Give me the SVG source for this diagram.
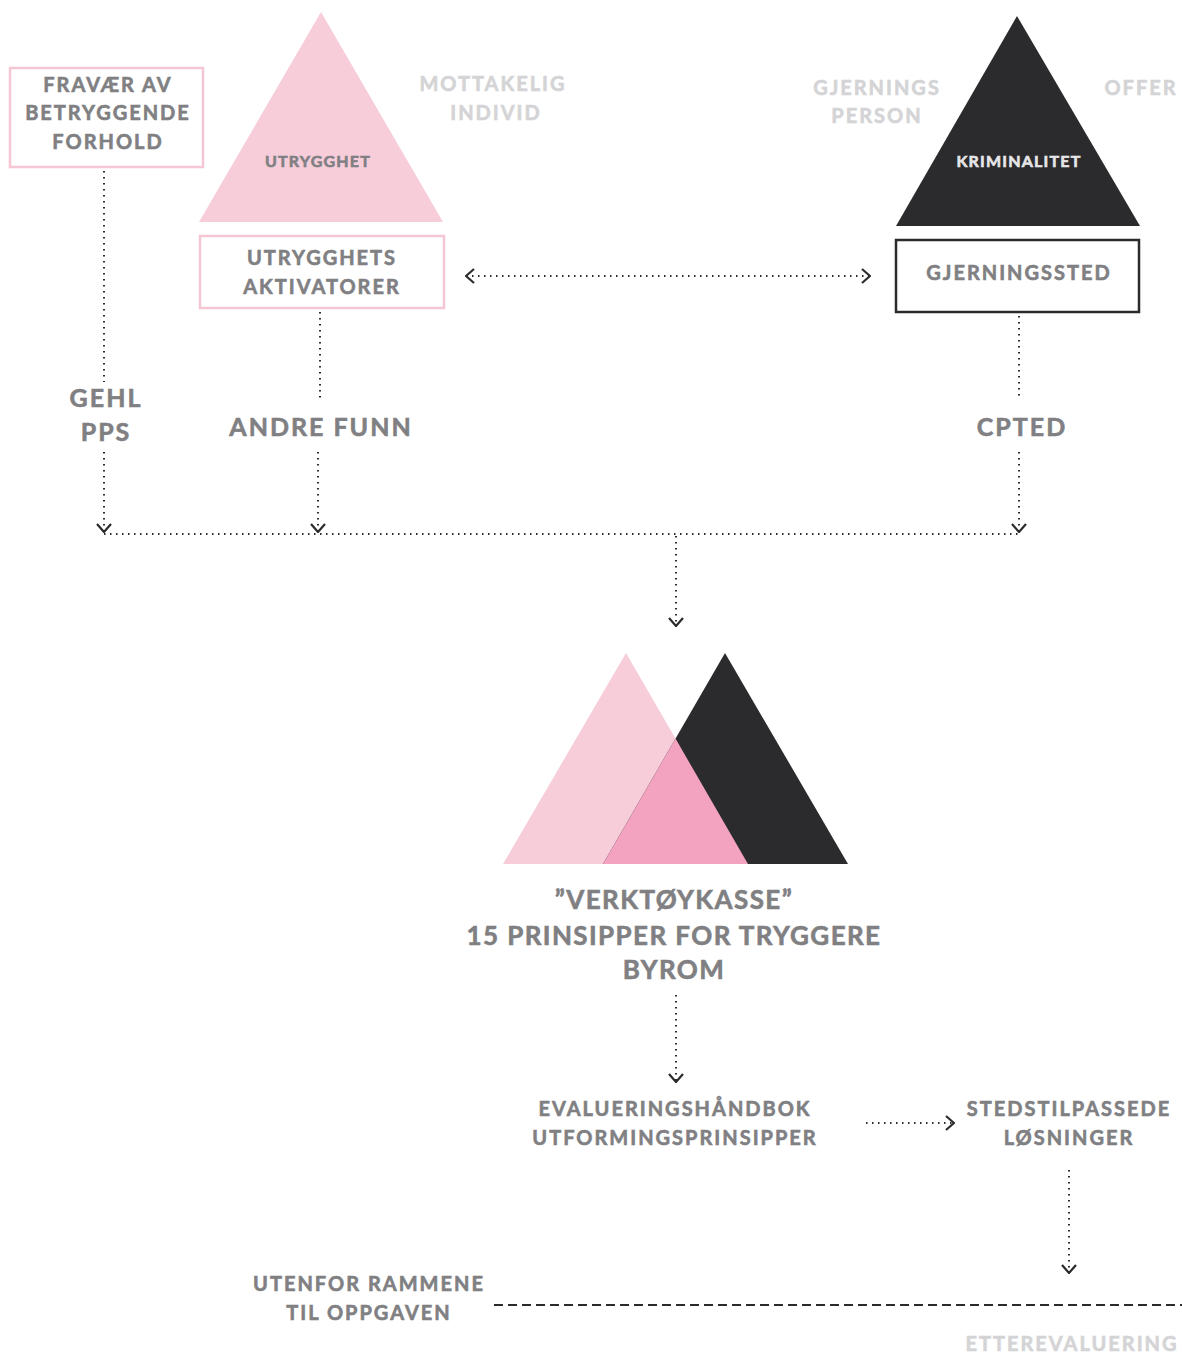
<svg xmlns="http://www.w3.org/2000/svg" width="1182" height="1356" viewBox="0 0 1182 1356">
<defs>
<style>
.t{font-family:Lato,"Open Sans","Liberation Sans",sans-serif;font-weight:700;fill:#808083;stroke:#808083;stroke-width:0.6px;text-anchor:middle;letter-spacing:2px}
.lt{fill:#d4d4d6;stroke:#d4d4d6}
.s20{font-size:20px}
.s15{font-size:16px;letter-spacing:1.2px}
.s25{font-size:25px;letter-spacing:2px}
.s26{font-size:26px;letter-spacing:1.4px}
.dot{fill:none;stroke:#2b2b2d;stroke-width:2;stroke-dasharray:1.5 4.5}
.dash{fill:none;stroke:#2b2b2d;stroke-width:2;stroke-dasharray:9 5}
</style>
<marker id="ah" viewBox="0 0 10 16" refX="9" refY="8" markerWidth="10" markerHeight="16" markerUnits="userSpaceOnUse" orient="auto-start-reverse">
<path d="M1,1 L9,8 L1,15" fill="none" stroke="#2b2b2d" stroke-width="2.2"/>
</marker>
</defs>
<rect width="1182" height="1356" fill="#ffffff"/>

<g id="fravaer">
<rect x="10" y="68" width="193" height="99" fill="none" stroke="#f5c6d3" stroke-width="2.5"/>
<text class="t s20" x="108" y="92">FRAVÆR AV</text>
<text class="t s20" x="108" y="120">BETRYGGENDE</text>
<text class="t s20" x="108" y="149">FORHOLD</text>
</g>

<g id="utrygghet">
<polygon points="321,12 443,222 199,222" fill="#f7cdda"/>
<text class="t s15" x="318" y="167">UTRYGGHET</text>
</g>

<g id="mottakelig">
<text class="t lt s20" x="493" y="91">MOTTAKELIG</text>
<text class="t lt s20" x="496" y="120">INDIVID</text>
</g>

<g id="aktivatorer">
<rect x="200" y="236" width="244" height="72" fill="none" stroke="#f5c6d3" stroke-width="2.5"/>
<text class="t s20" x="322" y="265">UTRYGGHETS</text>
<text class="t s20" x="322" y="294">AKTIVATORER</text>
</g>

<g id="gjerningsperson">
<text class="t lt s20" x="877" y="95">GJERNINGS</text>
<text class="t lt s20" x="877" y="123">PERSON</text>
</g>

<g id="offer">
<text class="t lt s20" x="1141" y="95">OFFER</text>
</g>

<g id="kriminalitet">
<polygon points="1017,16 1140,226 896,226" fill="#2b2b2d"/>
<text class="t s15" x="1019" y="167" style="fill:#e6e6e8;stroke:#e6e6e8">KRIMINALITET</text>
</g>

<g id="gjerningssted">
<rect x="896" y="240" width="243" height="72" fill="none" stroke="#2b2b2d" stroke-width="2.5"/>
<text class="t s20" x="1019" y="280">GJERNINGSSTED</text>
</g>

<g id="gehl">
<text class="t s25" x="106" y="407">GEHL</text>
<text class="t s25" x="106" y="441">PPS</text>
</g>

<g id="andre-funn">
<text class="t s25" x="321" y="436">ANDRE FUNN</text>
</g>

<g id="cpted">
<text class="t s25" x="1022" y="436">CPTED</text>
</g>

<g id="verktoykasse">
<polygon points="626,653 748,864 503,864" fill="#f7cdda"/>
<polygon points="725,653 848,864 603,864" fill="#2b2b2d"/>
<polygon points="675.5,738.6 748,864 603,864" fill="#f3a2c0"/>
<text class="t s26" x="674" y="909">”VERKTØYKASSE”</text>
<text class="t s26" x="674" y="945">15 PRINSIPPER FOR TRYGGERE</text>
<text class="t s26" x="674" y="979">BYROM</text>
</g>

<g id="evaluering">
<text class="t s20" x="675" y="1116">EVALUERINGSHÅNDBOK</text>
<text class="t s20" x="675" y="1145">UTFORMINGSPRINSIPPER</text>
</g>

<g id="stedstilpassede">
<text class="t s20" x="1069" y="1116">STEDSTILPASSEDE</text>
<text class="t s20" x="1069" y="1145">LØSNINGER</text>
</g>

<g id="utenfor">
<text class="t s20" x="369" y="1291">UTENFOR RAMMENE</text>
<text class="t s20" x="369" y="1320">TIL OPPGAVEN</text>
</g>

<g id="etterevaluering">
<text class="t lt s20" x="1072" y="1351">ETTEREVALUERING</text>
</g>

<g id="connectors">
<path class="dot" d="M466,276 H870" marker-start="url(#ah)" marker-end="url(#ah)"/>
<path class="dot" d="M104,171 V382"/>
<path class="dot" d="M104,452 V532" marker-end="url(#ah)"/>
<path class="dot" d="M320,312 V400"/>
<path class="dot" d="M318,452 V532" marker-end="url(#ah)"/>
<path class="dot" d="M1019,316 V400"/>
<path class="dot" d="M1019,452 V532" marker-end="url(#ah)"/>
<path class="dot" d="M104,534 H1019"/>
<path class="dot" d="M676,536 V626" marker-end="url(#ah)"/>
<path class="dot" d="M676,995 V1082" marker-end="url(#ah)"/>
<path class="dot" d="M866,1123 H954" marker-end="url(#ah)"/>
<path class="dot" d="M1069,1170 V1273" marker-end="url(#ah)"/>
<path class="dash" d="M494,1305 H1182"/>
</g>
</svg>
